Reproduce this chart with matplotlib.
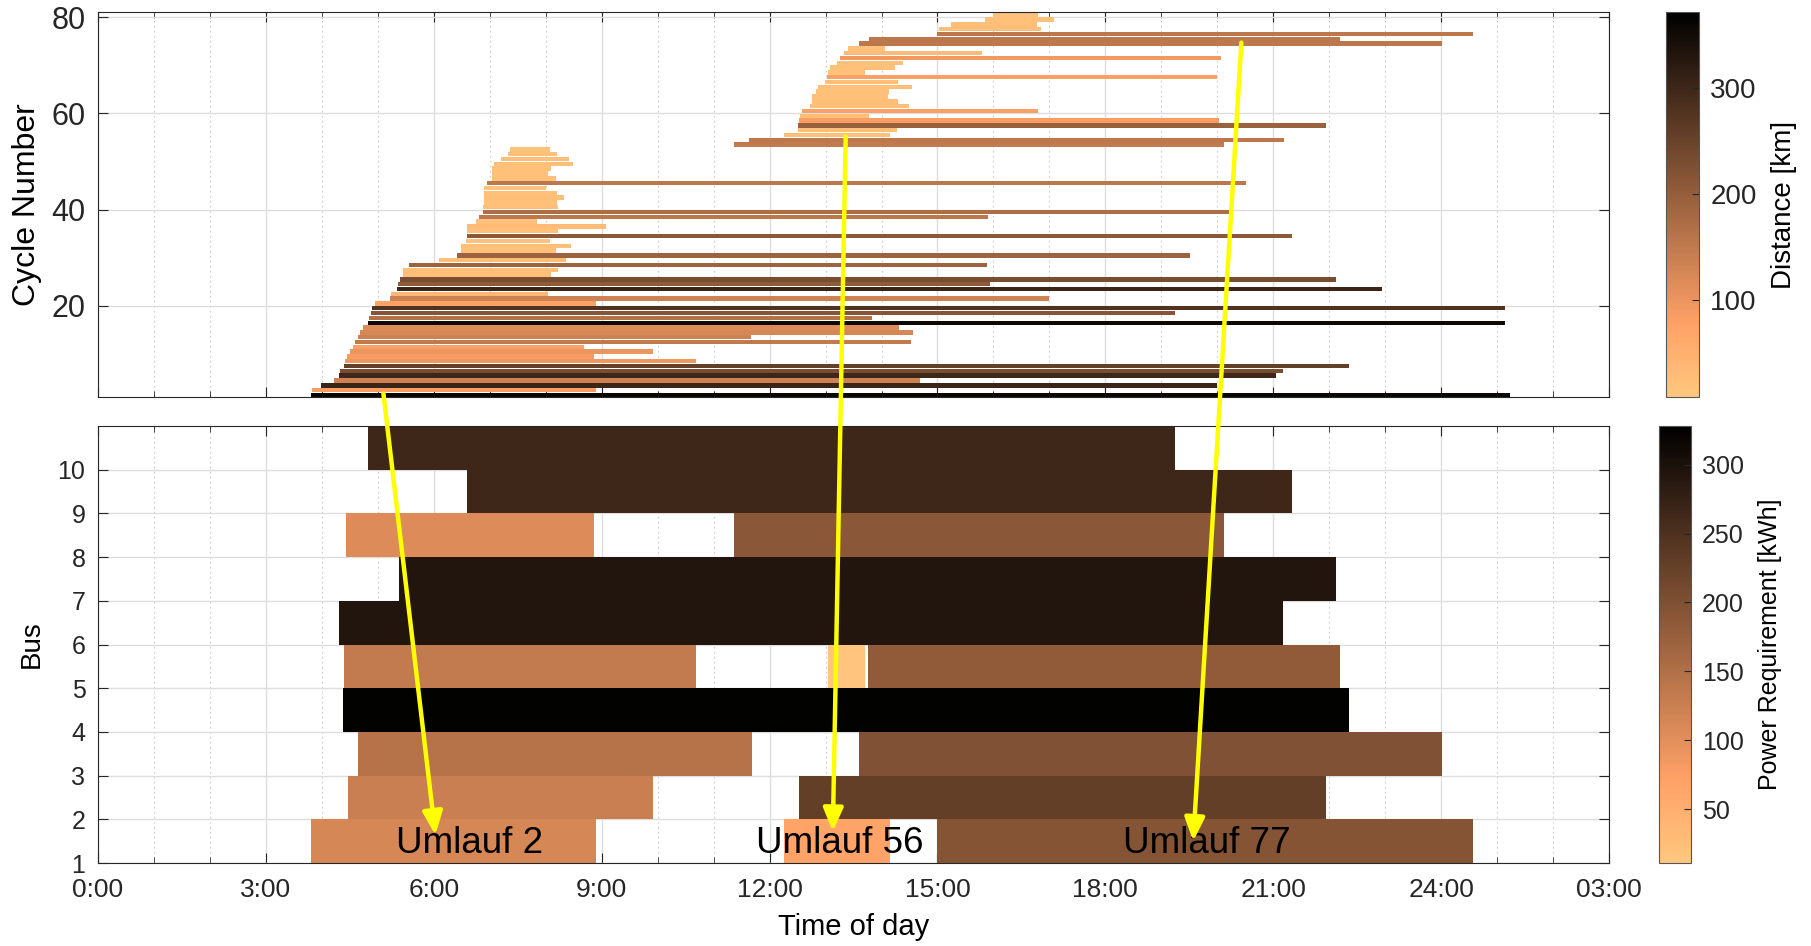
import matplotlib.pyplot as plt
import numpy as np
from matplotlib.cm import ScalarMappable
from matplotlib.patches import ConnectionPatch
from matplotlib.ticker import MultipleLocator

plt.rcParams.update(
    {
        "font.family": ["Liberation Sans", "DejaVu Sans"],
        "text.color": "#262626",
        "axes.edgecolor": "#262626",
        "xtick.color": "#262626",
        "ytick.color": "#262626",
        "axes.linewidth": 0.8,
    }
)

# ── Cycles (Umläufe): start / end hour and distance ─────────────────────────
cycle_start = [
    3.81, 3.83, 3.99, 4.22, 4.31, 4.33, 4.40, 4.42, 4.45, 4.50,
    4.55, 4.60, 4.65, 4.69, 4.73, 4.82, 4.84, 4.87, 4.90, 4.95,
    5.21, 5.24, 5.34, 5.36, 5.40, 5.45, 5.45, 5.56, 6.10, 6.42,
    6.49, 6.49, 6.58, 6.60, 6.60, 6.60, 6.75, 6.80, 6.88, 6.88,
    6.89, 6.89, 6.89, 6.89, 6.95, 7.04, 7.04, 7.04, 7.08, 7.21,
    7.32, 7.37, 11.37, 11.64, 12.26, 12.51, 12.50, 12.53, 12.55, 12.58,
    12.72, 12.75, 12.76, 12.83, 12.87, 12.99, 13.03, 13.05, 13.08, 13.20,
    13.25, 13.33, 13.41, 13.60, 13.77, 15.00, 15.03, 15.24, 15.85, 16.00,
]
cycle_end = [
    25.23, 8.90, 20.00, 14.68, 21.05, 21.17, 22.36, 10.68, 8.86, 9.92,
    8.68, 14.52, 11.67, 14.57, 14.32, 25.14, 13.83, 19.25, 25.14, 8.89,
    17.00, 8.04, 22.94, 15.94, 22.12, 8.10, 8.22, 15.88, 8.36, 19.52,
    8.19, 8.46, 8.08, 21.34, 8.22, 9.08, 7.85, 15.90, 20.21, 8.22,
    8.21, 8.33, 8.21, 8.01, 20.51, 8.18, 8.04, 8.09, 8.49, 8.42,
    8.21, 8.07, 20.12, 21.19, 14.15, 14.28, 21.94, 20.03, 13.77, 16.79,
    14.50, 14.30, 14.11, 14.14, 14.54, 14.30, 20.00, 13.71, 14.24, 14.39,
    20.06, 15.79, 14.06, 24.01, 22.19, 24.57, 16.85, 16.77, 17.08, 16.79,
]
cycle_distance = [
    360, 85, 305, 135, 300, 230, 255, 95, 90, 100,
    80, 150, 135, 125, 117, 355, 165, 215, 280, 75,
    135, 40, 305, 208, 232, 25, 25, 190, 25, 190,
    22, 25, 20, 210, 22, 30, 20, 155, 172, 22,
    22, 25, 22, 20, 155, 22, 20, 22, 25, 25,
    22, 20, 150, 155, 25, 25, 195, 85, 25, 80,
    25, 25, 22, 22, 25, 25, 80, 18, 22, 22,
    92, 30, 20, 155, 155, 155, 25, 25, 22, 20,
]

# ── Bus schedule: one entry per block ───────────────────────────────────────
block_bus = [10, 9, 8, 8, 7, 6, 5, 5, 5, 4, 3, 3, 2, 2, 1, 1, 1]
block_start = [4.83, 6.59, 4.43, 11.37, 5.37, 4.31, 4.39, 13.05, 13.76,
               4.37, 4.65, 13.60, 4.47, 12.52, 3.80, 12.26, 15.00]
block_end = [19.25, 21.33, 8.87, 20.12, 22.12, 21.17, 10.68, 13.71, 22.20,
             22.36, 11.68, 24.02, 9.92, 21.94, 8.89, 14.16, 24.57]
block_power = [266, 266, 106, 189, 294, 294, 133, 17, 183,
               325, 145, 199, 125, 227, 113, 68, 195]

hour_labels = ["0:00", "3:00", "6:00", "9:00", "12:00", "15:00",
               "18:00", "21:00", "24:00", "03:00"]

# annotations: label, text x, arrow start (top chart), arrow end (bottom chart)
umlauf_labels = ["Umlauf 2", "Umlauf 56", "Umlauf 77"]
umlauf_text_x = [5.33, 11.76, 18.31]
arrow_from = [(5.10, 1.8), (13.36, 55.2), (20.43, 74.7)]
arrow_to = [(6.03, 1.64), (13.13, 1.72), (19.57, 1.50)]

cmap = plt.get_cmap("copper_r")
norm_dist = plt.Normalize(8, 372)
norm_power = plt.Normalize(11, 328)


def style_axes(ax, tick_size):
    ax.set_xlim(0, 27)
    ax.set_xticks(np.arange(0, 28, 3))
    ax.xaxis.set_minor_locator(MultipleLocator(1))
    ax.tick_params(which="both", direction="in", top=True, right=True,
                   labelsize=tick_size, pad=9)
    ax.tick_params(which="major", length=7, width=0.8)
    ax.tick_params(which="minor", length=4, width=0.6)
    ax.grid(which="major", color="#dedede", linewidth=1.0)
    ax.grid(which="minor", axis="x", color="#cccccc", linewidth=0.8,
            linestyle=(0, (1.5, 3)))
    ax.set_axisbelow(True)


fig = plt.figure(figsize=(18.11, 9.46), dpi=100)
ax_top = fig.add_axes([0.0541, 0.580, 0.8344, 0.407])
ax_bot = fig.add_axes([0.0541, 0.0877, 0.8344, 0.462])
cax_top = fig.add_axes([0.9197, 0.580, 0.0185, 0.407])
cax_bot = fig.add_axes([0.9162, 0.0877, 0.0174, 0.462])

# Top: cycles
cycles = np.arange(1, len(cycle_start) + 1)
ax_top.barh(cycles + 0.5, np.subtract(cycle_end, cycle_start), left=cycle_start,
            height=0.92, color=cmap(norm_dist(cycle_distance)), linewidth=0)
style_axes(ax_top, 22)
ax_top.set_ylim(1, 81)
ax_top.set_yticks([20, 40, 60, 80])
ax_top.set_xticklabels([])
ax_top.set_ylabel("Cycle Number", fontsize=23)
ax_top.yaxis.set_label_coords(-0.037, 0.5)

# Bottom: buses
ax_bot.barh(block_bus, np.subtract(block_end, block_start), left=block_start,
            height=1.0, align="edge", color=cmap(norm_power(block_power)), linewidth=0)
style_axes(ax_bot, 18)
ax_bot.tick_params(axis="x", pad=11)
ax_bot.set_ylim(1, 11)
ax_bot.set_yticks(np.arange(1, 11))
ax_bot.set_xticklabels(hour_labels, fontsize=19)
ax_bot.set_ylabel("Bus", fontsize=20)
ax_bot.yaxis.set_label_coords(-0.035, 0.5)
ax_bot.set_xlabel("Time of day", fontsize=21, labelpad=8)

for label, tx in zip(umlauf_labels, umlauf_text_x):
    ax_bot.text(tx, 1.45, label, fontsize=26.5, color="black", va="center", ha="left")

# Colorbars
cb_top = fig.colorbar(ScalarMappable(norm_dist, cmap), cax=cax_top)
cb_top.set_ticks([100, 200, 300])
cb_top.ax.tick_params(labelsize=20, direction="in", length=5, pad=8)
cb_top.set_label("Distance [km]", fontsize=20, labelpad=10)
cb_top.outline.set_edgecolor("#555555")

cb_bot = fig.colorbar(ScalarMappable(norm_power, cmap), cax=cax_bot)
cb_bot.set_ticks([50, 100, 150, 200, 250, 300])
cb_bot.ax.tick_params(labelsize=18, direction="in", length=5, pad=8)
cb_bot.set_label("Power Requirement [kWh]", fontsize=18, labelpad=10)
cb_bot.outline.set_edgecolor("#555555")

# Yellow arrows linking cycles to buses
for start, end in zip(arrow_from, arrow_to):
    con = ConnectionPatch(xyA=start, coordsA=ax_top.transData,
                          xyB=end, coordsB=ax_bot.transData,
                          arrowstyle="-|>,head_length=0.7,head_width=0.3",
                          mutation_scale=20, color="#ffff00", linewidth=3.2,
                          shrinkA=0, shrinkB=0)
    fig.add_artist(con)

fig.savefig("out.png", dpi=100)
